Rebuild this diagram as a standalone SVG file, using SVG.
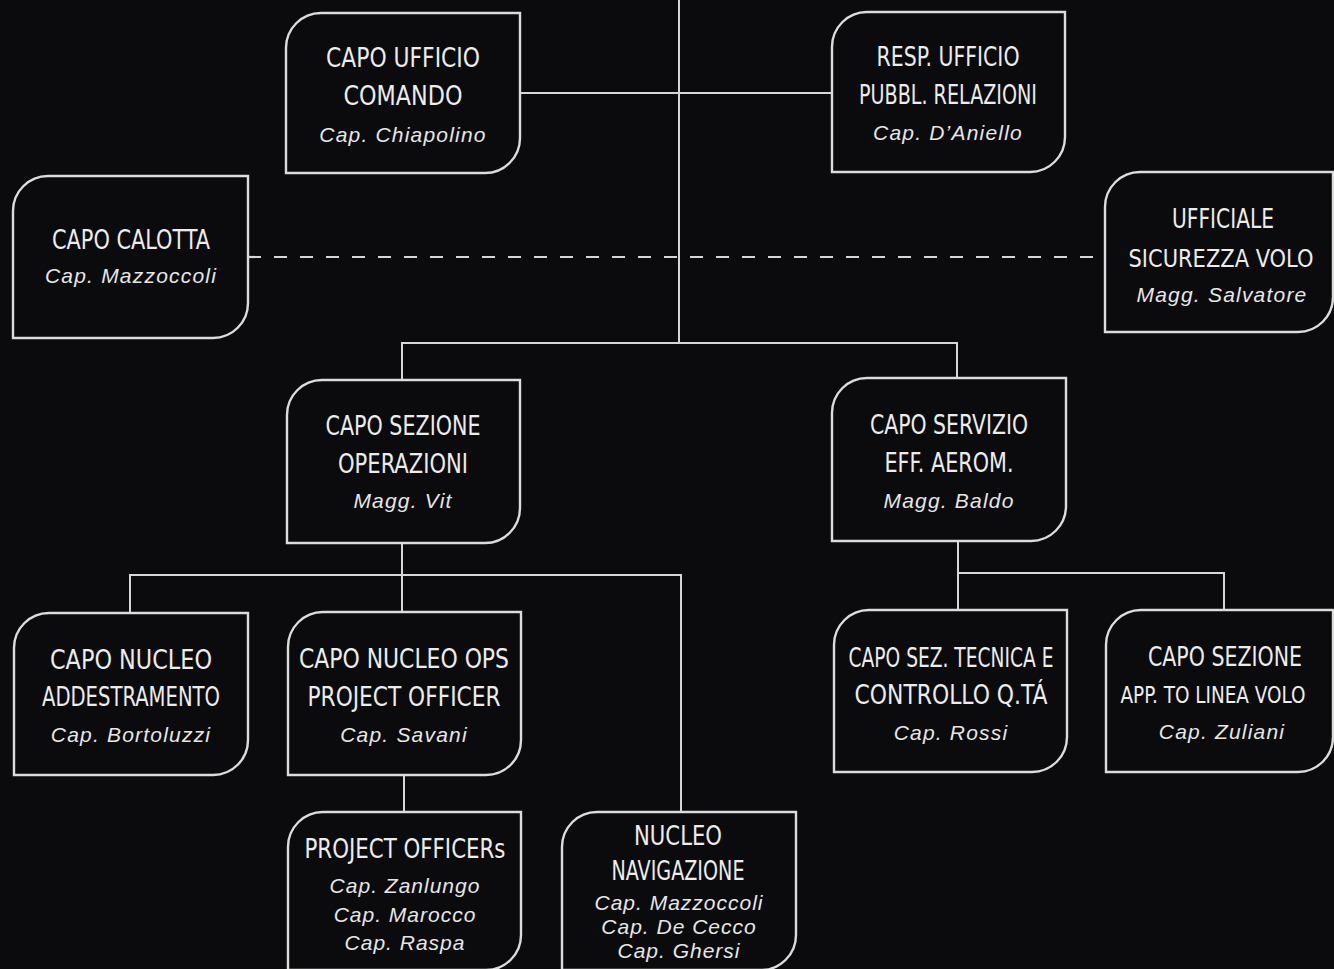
<svg xmlns="http://www.w3.org/2000/svg" width="1334" height="969" viewBox="0 0 1334 969">
<style>
.bg{fill:#0b0b0d}
.box{fill:#0b0b0d;stroke:#dcdcdc;stroke-width:2.4}
.ln{stroke:#d6d6d6;stroke-width:2;fill:none}
.dash{stroke:#d6d6d6;stroke-width:2.2;fill:none;stroke-dasharray:13 13}
.h{font-family:"Liberation Sans Narrow","DejaVu Sans Condensed","DejaVu Sans",sans-serif;font-stretch:condensed;font-size:26px;fill:#ececec;text-anchor:middle}
.hs{font-size:22px}
.n{font-family:"Liberation Sans",Arial,sans-serif;font-style:italic;font-size:21px;fill:#e6e6e6;text-anchor:middle;letter-spacing:1.2px}
.s{font-family:"Liberation Sans",Arial,sans-serif;font-style:italic;font-size:21px;fill:#e6e6e6;text-anchor:middle;letter-spacing:1px}
</style>
<rect class="bg" x="0" y="0" width="1334" height="969"/>
<g id="connectors">
<path class="ln" d="M679 0 V343"/>
<path class="ln" d="M520 93 H832"/>
<path class="dash" d="M248 257 H1105"/>
<path class="ln" d="M402 380 V343 H957 V378"/>
<path class="ln" d="M402 543 V575"/>
<path class="ln" d="M130 613 V575 H681 V812"/>
<path class="ln" d="M402 575 V612"/>
<path class="ln" d="M404 775 V812"/>
<path class="ln" d="M958 541 V610"/>
<path class="ln" d="M958 573 H1224 V610"/>
</g>
<g id="capo-ufficio-comando">
<path class="box" d="M321 13 H520 V138 A35 35 0 0 1 485 173 H286 V48 A35 35 0 0 1 321 13 Z"/>
<text class="h" x="403" y="67" textLength="154" lengthAdjust="spacingAndGlyphs">CAPO UFFICIO</text>
<text class="h" x="403" y="105" textLength="119" lengthAdjust="spacingAndGlyphs">COMANDO</text>
<text class="n" x="403" y="142">Cap. Chiapolino</text>
</g>
<g id="resp-ufficio">
<path class="box" d="M867 12 H1065 V137 A35 35 0 0 1 1030 172 H832 V47 A35 35 0 0 1 867 12 Z"/>
<text class="h" x="948" y="66" textLength="143" lengthAdjust="spacingAndGlyphs">RESP. UFFICIO</text>
<text class="h" x="948" y="104" textLength="178" lengthAdjust="spacingAndGlyphs">PUBBL. RELAZIONI</text>
<text class="n" x="948" y="140">Cap. D’Aniello</text>
</g>
<g id="capo-calotta">
<path class="box" d="M48 176 H248 V303 A35 35 0 0 1 213 338 H13 V211 A35 35 0 0 1 48 176 Z"/>
<text class="h" x="131" y="249" textLength="158" lengthAdjust="spacingAndGlyphs">CAPO CALOTTA</text>
<text class="n" x="131" y="283">Cap. Mazzoccoli</text>
</g>
<g id="ufficiale-sicurezza-volo">
<path class="box" d="M1140 172 H1333 V297 A35 35 0 0 1 1298 332 H1105 V207 A35 35 0 0 1 1140 172 Z"/>
<text class="h" x="1223" y="228" textLength="102" lengthAdjust="spacingAndGlyphs">UFFICIALE</text>
<text class="h hs" x="1221" y="267" textLength="185" lengthAdjust="spacingAndGlyphs" style="font-size:24px">SICUREZZA VOLO</text>
<text class="n" x="1222" y="302">Magg. Salvatore</text>
</g>
<g id="capo-sezione-operazioni">
<path class="box" d="M322 380 H520 V508 A35 35 0 0 1 485 543 H287 V415 A35 35 0 0 1 322 380 Z"/>
<text class="h" x="403" y="435" textLength="155" lengthAdjust="spacingAndGlyphs">CAPO SEZIONE</text>
<text class="h" x="403" y="473" textLength="130" lengthAdjust="spacingAndGlyphs">OPERAZIONI</text>
<text class="n" x="403" y="508">Magg. Vit</text>
</g>
<g id="capo-servizio">
<path class="box" d="M867 378 H1066 V506 A35 35 0 0 1 1031 541 H832 V413 A35 35 0 0 1 867 378 Z"/>
<text class="h" x="949" y="434" textLength="158" lengthAdjust="spacingAndGlyphs">CAPO SERVIZIO</text>
<text class="h" x="949" y="472" textLength="129" lengthAdjust="spacingAndGlyphs">EFF. AEROM.</text>
<text class="n" x="949" y="508">Magg. Baldo</text>
</g>
<g id="capo-nucleo-addestramento">
<path class="box" d="M49 613 H248 V740 A35 35 0 0 1 213 775 H14 V648 A35 35 0 0 1 49 613 Z"/>
<text class="h" x="131" y="669" textLength="162" lengthAdjust="spacingAndGlyphs">CAPO  NUCLEO</text>
<text class="h" x="131" y="706" textLength="178" lengthAdjust="spacingAndGlyphs">ADDESTRAMENTO</text>
<text class="n" x="131" y="742">Cap. Bortoluzzi</text>
</g>
<g id="capo-nucleo-ops">
<path class="box" d="M323 612 H521 V740 A35 35 0 0 1 486 775 H288 V647 A35 35 0 0 1 323 612 Z"/>
<text class="h" x="404" y="668" textLength="210" lengthAdjust="spacingAndGlyphs">CAPO NUCLEO OPS</text>
<text class="h" x="404" y="706" textLength="193" lengthAdjust="spacingAndGlyphs">PROJECT OFFICER</text>
<text class="n" x="404" y="742">Cap. Savani</text>
</g>
<g id="capo-sez-tecnica">
<path class="box" d="M869 610 H1067 V737 A35 35 0 0 1 1032 772 H834 V645 A35 35 0 0 1 869 610 Z"/>
<text class="h" x="951" y="667" textLength="205" lengthAdjust="spacingAndGlyphs">CAPO SEZ. TECNICA E</text>
<text class="h" x="951" y="704" textLength="193" lengthAdjust="spacingAndGlyphs">CONTROLLO Q.TÁ</text>
<text class="n" x="951" y="740">Cap. Rossi</text>
</g>
<g id="capo-sezione-app-linea-volo">
<path class="box" d="M1141 610 H1333 V737 A35 35 0 0 1 1298 772 H1106 V645 A35 35 0 0 1 1141 610 Z"/>
<text class="h" x="1225" y="666" textLength="154" lengthAdjust="spacingAndGlyphs">CAPO SEZIONE</text>
<text class="h" x="1213" y="703" textLength="185" lengthAdjust="spacingAndGlyphs" style="font-size:23px">APP. TO LINEA VOLO</text>
<text class="n" x="1222" y="739">Cap. Zuliani</text>
</g>
<g id="project-officers">
<path class="box" d="M323 812 H521 V935 A35 35 0 0 1 486 970 H288 V847 A35 35 0 0 1 323 812 Z"/>
<text class="h" x="405" y="858" textLength="201" lengthAdjust="spacingAndGlyphs">PROJECT OFFICERs</text>
<text class="s" x="405" y="893">Cap. Zanlungo</text>
<text class="s" x="405" y="922">Cap. Marocco</text>
<text class="s" x="405" y="950">Cap. Raspa</text>
</g>
<g id="nucleo-navigazione">
<path class="box" d="M597 812 H796 V935 A35 35 0 0 1 761 970 H562 V847 A35 35 0 0 1 597 812 Z"/>
<text class="h" x="678" y="845" textLength="88" lengthAdjust="spacingAndGlyphs">NUCLEO</text>
<text class="h" x="678" y="880" textLength="133" lengthAdjust="spacingAndGlyphs">NAVIGAZIONE</text>
<text class="s" x="679" y="910">Cap. Mazzoccoli</text>
<text class="s" x="679" y="934">Cap. De Cecco</text>
<text class="s" x="679" y="958">Cap. Ghersi</text>
</g>
</svg>
